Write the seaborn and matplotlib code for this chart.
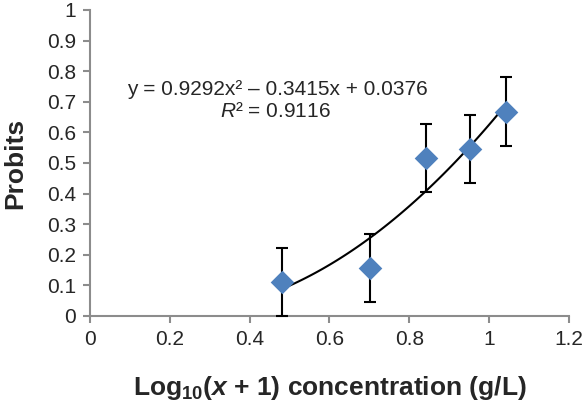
import matplotlib
matplotlib.use("Agg")
import matplotlib.pyplot as plt
import seaborn as sns
import numpy as np

# data
log_conc = [0.482, 0.702, 0.842, 0.952, 1.043]
probits = [0.111, 0.158, 0.515, 0.547, 0.668]
probit_err = [0.111, 0.111, 0.111, 0.111, 0.112]
# trendline as printed on the chart
fit_coef = [0.9292, -0.3415, 0.0376]
r_squared = 0.9116

sns.set_style("ticks")
plt.rcParams['font.family'] = ['Liberation Sans', 'DejaVu Sans']
plt.rcParams['mathtext.fontset'] = 'custom'
plt.rcParams['mathtext.rm'] = 'Liberation Sans'
plt.rcParams['mathtext.it'] = 'Liberation Sans:italic'
plt.rcParams['mathtext.bf'] = 'Liberation Sans:bold'
plt.rcParams['mathtext.bfit'] = 'Liberation Sans:bold:italic'

fig = plt.figure(figsize=(5.85, 4.08), dpi=100)
ax = fig.add_axes([0.1538, 0.2255, 0.8188, 0.75])

blue = "#4F81BD"
grey = "#8C8C8C"

xs = np.linspace(log_conc[0], log_conc[-1], 100)
sns.lineplot(x=xs, y=np.polyval(fit_coef, xs), color="black", lw=1.5, ax=ax, zorder=2)
ax.errorbar(log_conc, probits, yerr=probit_err, fmt="none", ecolor="black",
            elinewidth=1.5, capsize=4.5, capthick=1.5, zorder=3, clip_on=False)
sns.scatterplot(x=log_conc, y=probits, marker="D", s=145, color=blue,
                linewidth=0, ax=ax, zorder=4, clip_on=False)

ax.set_xlim(0, 1.2)
ax.set_ylim(0, 1)
xt = np.round(np.arange(0, 1.21, 0.2), 1)
yt = np.round(np.arange(0, 1.01, 0.1), 1)
ax.set_xticks(xt)
ax.set_yticks(yt)
ax.set_xticklabels([f"{t:g}" for t in xt])
ax.set_yticklabels([f"{t:g}" for t in yt])
ax.tick_params(axis="both", labelsize=15, color=grey, width=1.5, length=5, pad=5)
sns.despine(ax=ax)
for side in ["left", "bottom"]:
    ax.spines[side].set_color(grey)
    ax.spines[side].set_linewidth(1.5)

ax.text(0.47, 0.739, f"y = {fit_coef[0]}x\u00b2 \u2013 {abs(fit_coef[1])}x + {fit_coef[2]}",
        ha="center", va="center", fontsize=15)
ax.text(0.464, 0.667, f"$R$\u00b2 = {r_squared}", ha="center", va="center", fontsize=15)

ax.set_xlabel(r"Log$_\mathbf{10}$($\mathbfit{x}$ + 1) concentration (g/L)",
              fontsize=19, fontweight="bold")
ax.set_ylabel("Probits", fontsize=19, fontweight="bold")
ax.xaxis.set_label_coords(0.5, -0.235)
ax.xaxis.label.set_va("center")
ax.yaxis.set_label_coords(-0.157, 0.5)
ax.yaxis.label.set_va("center")

fig.savefig("out.png", dpi=100)
